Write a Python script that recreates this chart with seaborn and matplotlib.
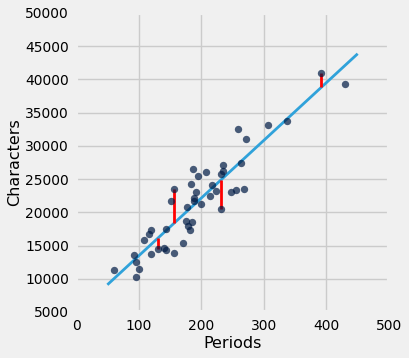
import numpy as np
import pandas as pd
import matplotlib
matplotlib.use("Agg")
import matplotlib.pyplot as plt
import seaborn as sns

# Little Women chapters: number of periods and characters
periods = [61, 92, 96, 100, 95, 109, 117, 120, 120, 131,
           140, 144, 156, 144, 171, 151, 157, 187, 195, 207,
           183, 192, 188, 189, 200, 177, 175, 185, 179, 182,
           214, 224, 231, 247, 255, 269, 234, 234, 232, 263,
           217, 392, 429, 337, 306, 258, 271]
characters = [11320, 13540, 12480, 11430, 10270, 15840, 16700, 17300, 13690, 14431,
              14622, 14290, 13840, 17500, 15350, 21670, 23524, 26530, 25526, 26080,
              24230, 23030, 22148, 21759, 21260, 20770, 18660, 18508, 17910, 17300,
              22476, 23220, 20558, 23030, 23395, 23480, 27140, 26190, 25740, 27400,
              24130, 40935, 39290, 33767, 33120, 32510, 31010]

# chapters whose errors are drawn in red
sample_periods = [131, 231, 392, 157]
sample_characters = [14431, 20558, 40935, 23524]

df = pd.DataFrame({"Periods": periods, "Characters": characters})
slope, intercept = np.polyfit(df["Periods"], df["Characters"], 1)

plt.style.use("fivethirtyeight")
fig = plt.figure(figsize=(4.09, 3.58), dpi=100, facecolor="#f0f0f0")
ax = fig.add_axes([0.186, 0.1285, 0.765, 0.8355])

sns.scatterplot(data=df, x="Periods", y="Characters", ax=ax,
                color=(0.0, 0.102, 0.267), alpha=0.7, s=28, linewidth=0, zorder=3)

xlims = np.array([50, 450])
ax.plot(xlims, slope * xlims + intercept, lw=2, color="#30a2da", zorder=2)
for x, y in zip(sample_periods, sample_characters):
    ax.plot([x, x], [y, slope * x + intercept], color="r", lw=2, zorder=2)

ax.set_xlim(0, 500)
ax.set_ylim(5000, 50000)
ax.set_xticks(range(0, 501, 100))
ax.set_yticks(range(5000, 50001, 5000))
ax.tick_params(labelsize=10, length=0, pad=5)
ax.set_xlabel("Periods", fontsize=11.5, labelpad=2)
ax.set_ylabel("Characters", fontsize=11.5, labelpad=2)

fig.savefig("out.png", dpi=100, facecolor="#f0f0f0")
